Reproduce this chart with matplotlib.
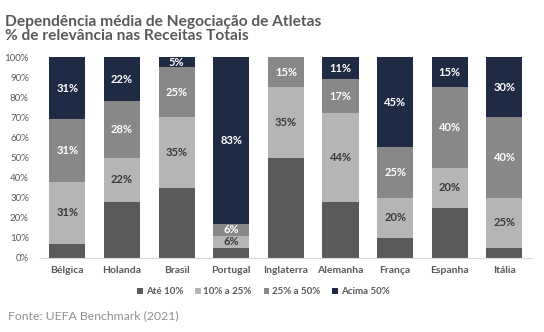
import numpy as np
import matplotlib.pyplot as plt

# Data (% share of each revenue-dependence band)
countries = ['Bélgica', 'Holanda', 'Brasil', 'Portugal', 'Inglaterra',
             'Alemanha', 'França', 'Espanha', 'Itália']
ate_10 = [7, 28, 35, 5, 50, 28, 10, 25, 5]
de_10_a_25 = [31, 22, 35, 6, 35, 44, 20, 20, 25]
de_25_a_50 = [31, 28, 25, 6, 15, 17, 25, 40, 40]
acima_50 = [31, 22, 5, 83, 0, 11, 45, 15, 30]

series = [ate_10, de_10_a_25, de_25_a_50, acima_50]
names = ['Até 10%', '10% a 25%', '25% a 50%', 'Acima 50%']
colors = ['#5a5a5a', '#b5b5b5', '#888888', '#1f2b44']
text_colors = [None, '#3a3a3a', 'white', 'white']

plt.rcParams['font.family'] = ['Lato', 'DejaVu Sans']

fig = plt.figure(figsize=(5.44, 3.32), dpi=100)
ax = fig.add_axes([0.0735, 0.2229, 0.904, 0.6054])

x = np.arange(len(countries))
bottom = np.zeros(len(countries))
for vals, name, col, tcol in zip(series, names, colors, text_colors):
    vals = np.array(vals, dtype=float)
    ax.bar(x, vals, 0.66, bottom=bottom, color=col, label=name)
    if tcol is not None:
        for xi, b, v in zip(x, bottom, vals):
            if v > 0:
                ax.text(xi, b + v / 2, f'{int(v)}%', ha='center', va='center',
                        color=tcol, fontsize=8, fontweight='bold')
    bottom += vals

ax.set_xlim(-0.5, 8.5)
ax.set_ylim(0, 100)
ax.set_yticks(range(0, 101, 10))
ax.set_yticklabels([f'{v}%' for v in range(0, 101, 10)])
ax.set_xticks(x)
ax.set_xticklabels(countries, fontweight='bold')
ax.tick_params(axis='y', length=0, labelsize=7, labelcolor='#595959', pad=8)
ax.tick_params(axis='x', length=0, labelsize=7.5, labelcolor='#595959', pad=6)
for s in ['top', 'right', 'left']:
    ax.spines[s].set_visible(False)
ax.spines['bottom'].set_color('#d9d9d9')

fig.legend(loc='center', bbox_to_anchor=(0.484, 0.121), ncol=4, frameon=False,
           handlelength=0.6, handleheight=0.6, handletextpad=0.3,
           columnspacing=1.2, labelcolor='#595959',
           prop={'weight': 'bold', 'size': 7})

fig.text(0.009, 0.955, 'Dependência média de Negociação de Atletas\n% de relevância nas Receitas Totais',
         ha='left', va='top', fontsize=11.2, fontweight='bold', color='#595959',
         linespacing=1.05)
fig.text(0.015, 0.05, 'Fonte: UEFA Benchmark (2021)', ha='left', va='center',
         fontsize=8.8, color='#909090')

fig.savefig('out.png', dpi=100)
